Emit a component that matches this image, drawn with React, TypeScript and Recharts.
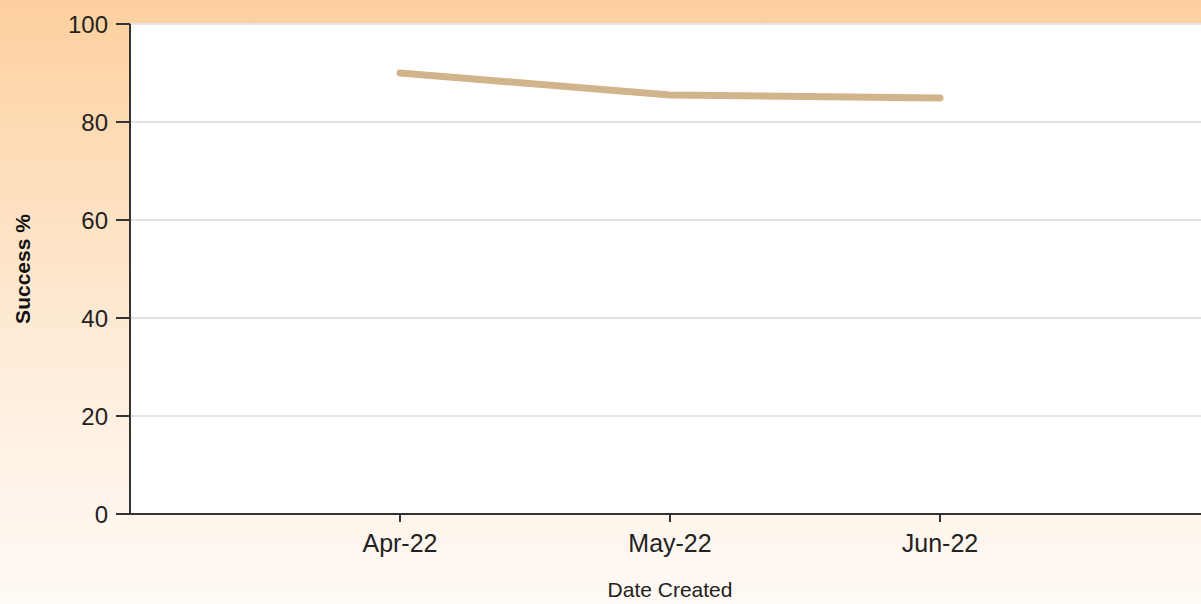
import React from "react";
import { LineChart, Line, XAxis, YAxis, CartesianGrid } from "recharts";

const categories = ["Apr-22", "May-22", "Jun-22"];
const successValues = [90, 85.5, 84.9];
const yTicks = [0, 20, 40, 60, 80, 100];

const data = categories.map((c, i) => ({ x: i + 1, label: c, success: successValues[i] }));

export default function App() {
  return (
    <div
      style={{
        position: "fixed",
        top: 0,
        left: 0,
        width: 1201,
        height: 604,
        overflow: "hidden",
        background: "linear-gradient(to bottom, #fdd09e 0%, #fee6cc 45%, #fff2e6 75%, #fffaf5 100%)",
        fontFamily: "'Liberation Sans', Arial, sans-serif",
      }}
    >
      <LineChart
        width={1210}
        height={604}
        data={data}
        margin={{ top: 24, right: 0, bottom: 0, left: 0 }}
      >
        <CartesianGrid
          horizontal={true}
          vertical={false}
          fill="#ffffff"
          stroke="#e3e3e3"
          strokeWidth={2}
        />
        <XAxis
          dataKey="x"
          type="number"
          domain={[0, 4]}
          ticks={[1, 2, 3]}
          tickFormatter={(v: number) => categories[v - 1] ?? ""}
          height={90}
          tickSize={8}
          tickMargin={12}
          axisLine={{ stroke: "#333", strokeWidth: 2 }}
          tickLine={{ stroke: "#333", strokeWidth: 2 }}
          tick={{ fill: "#222", fontSize: 25 }}
          label={{ value: "Date Created", position: "insideBottom", offset: 7, fill: "#222", fontSize: 21 }}
        />
        <YAxis
          domain={[0, 100]}
          ticks={yTicks}
          width={130}
          tickSize={14}
          tickMargin={8}
          axisLine={{ stroke: "#333", strokeWidth: 2 }}
          tickLine={{ stroke: "#333", strokeWidth: 2 }}
          tick={{ fill: "#222", fontSize: 24 }}
          label={{
            value: "Success %",
            angle: -90,
            position: "insideLeft",
            offset: 23,
            fill: "#111",
            fontSize: 21,
            fontWeight: "bold",
            style: { textAnchor: "middle" },
          }}
        />
        <Line
          type="linear"
          dataKey="success"
          stroke="#d2b48c"
          strokeWidth={7}
          strokeLinecap="round"
          dot={false}
          isAnimationActive={false}
        />
      </LineChart>
    </div>
  );
}
